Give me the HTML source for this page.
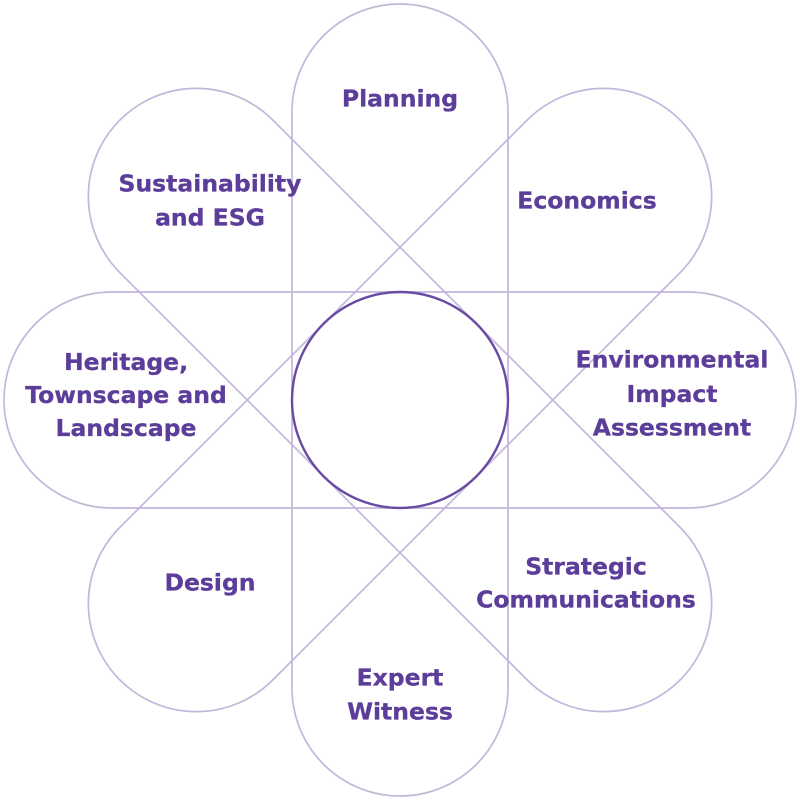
<!DOCTYPE html>
<html>
<head>
<meta charset="utf-8">
<style>
  html, body { margin:0; padding:0; background:#ffffff; }
  svg { display:block; }
  text { font-family: "DejaVu Sans", "Liberation Sans", sans-serif; font-weight: bold; font-size: 23.5px; fill: #5c3d99; stroke:#5c3d99; stroke-width:0.3; text-anchor: middle; }
</style>
</head>
<body>
<svg width="800" height="800" viewBox="0 0 800 800" xmlns="http://www.w3.org/2000/svg">
  <g fill="none" stroke="#c3b6db" stroke-width="1.7">
    <rect x="292" y="4" width="216" height="792" rx="108" ry="108"/>
    <rect x="4" y="292" width="792" height="216" rx="108" ry="108"/>
    <rect x="292" y="4" width="216" height="792" rx="108" ry="108" transform="rotate(45 400 400)"/>
    <rect x="292" y="4" width="216" height="792" rx="108" ry="108" transform="rotate(-45 400 400)"/>
  </g>
  <circle cx="400" cy="400" r="108" fill="#ffffff" stroke="#6a4ba3" stroke-width="2.4"/>

  <text x="400" y="106.5">Planning</text>

  <text x="210" y="191.5">Sustainability</text>
  <text x="210" y="225.5">and ESG</text>

  <text x="587" y="208.5">Economics</text>

  <text x="126" y="370">Heritage,</text>
  <text x="126" y="403">Townscape and</text>
  <text x="126" y="436">Landscape</text>

  <text x="672" y="367.5">Environmental</text>
  <text x="672" y="402">Impact</text>
  <text x="672" y="435.5">Assessment</text>

  <text x="210" y="590.5">Design</text>

  <text x="586" y="574.5">Strategic</text>
  <text x="586" y="607.5">Communications</text>

  <text x="400" y="685.5">Expert</text>
  <text x="400" y="719.5">Witness</text>
</svg>
</body>
</html>
